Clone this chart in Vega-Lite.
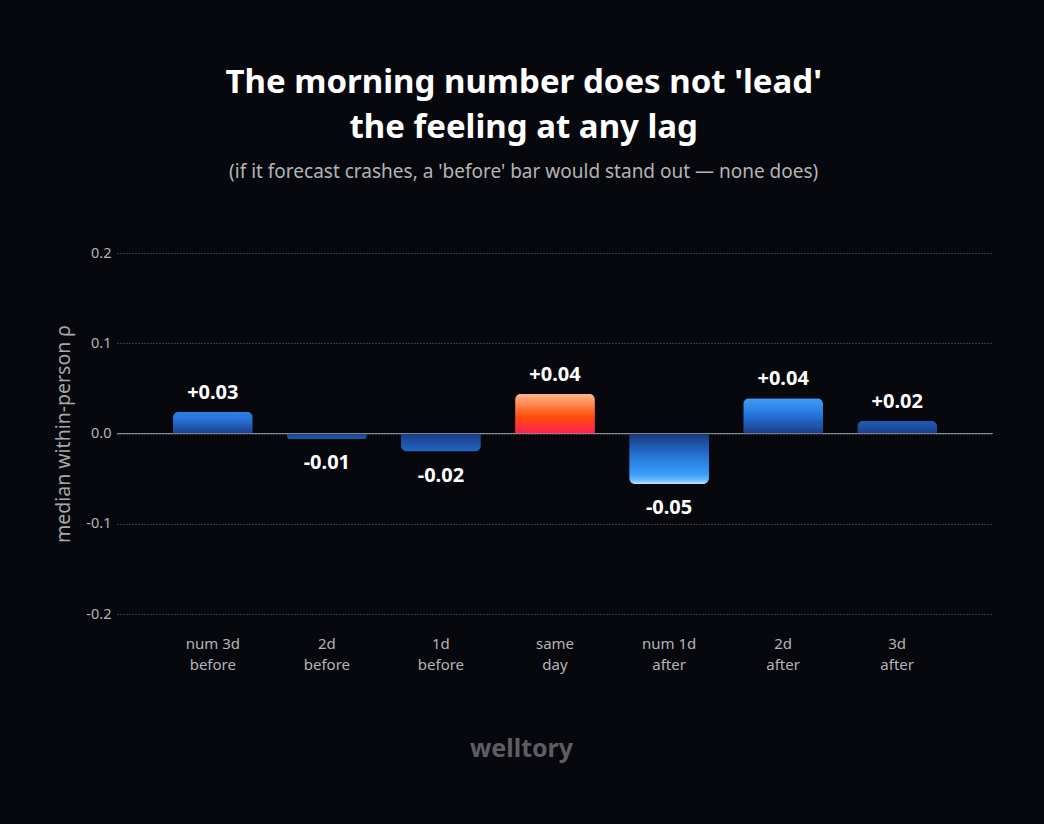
{
  "$schema": "https://vega.github.io/schema/vega-lite/v6.json",
  "autosize": {"type": "fit", "contains": "padding"},
  "width": 1044,
  "height": 824,
  "padding": {"left": 53, "right": 50, "top": 67, "bottom": 63},
  "background": "#07080d",
  "config": {
    "font": "Noto Sans",
    "view": {"stroke": null},
    "axis": {"domain": false, "ticks": false}
  },
  "title": {
    "text": ["The morning number does not 'lead'", "the feeling at any lag"],
    "subtitle": "(if it forecast crashes, a 'before' bar would stand out — none does)",
    "frame": "bounds",
    "anchor": "middle",
    "color": "#ffffff",
    "fontSize": 33,
    "fontWeight": "bold",
    "lineHeight": 45,
    "subtitleColor": "#b4b4b4",
    "subtitleFontSize": 19,
    "subtitlePadding": 18,
    "offset": 63
  },
  "data": {
    "values": [
      {"lag": "num 3d|before", "rho": 0.024, "label": "+0.03"},
      {"lag": "2d|before", "rho": -0.006, "label": "-0.01"},
      {"lag": "1d|before", "rho": -0.02, "label": "-0.02"},
      {"lag": "same|day", "rho": 0.044, "label": "+0.04"},
      {"lag": "num 1d|after", "rho": -0.056, "label": "-0.05"},
      {"lag": "2d|after", "rho": 0.039, "label": "+0.04"},
      {"lag": "3d|after", "rho": 0.014, "label": "+0.02"}
    ]
  },
  "encoding": {
    "x": {
      "field": "lag",
      "type": "nominal",
      "sort": null,
      "scale": {"paddingInner": 0.3, "paddingOuter": 0.49},
      "axis": {
        "labelAngle": 0,
        "labelExpr": "split(datum.label, '|')",
        "labelColor": "#b4b4b4",
        "labelFontSize": 15,
        "labelLineHeight": 21,
        "labelPadding": 22,
        "title": "welltory",
        "titleColor": "#5e5e62",
        "titleFontSize": 25,
        "titleFontWeight": "bold",
        "titleX": 404,
        "titleY": 134,
        "titleAlign": "center",
        "titleBaseline": "middle"
      }
    },
    "y": {
      "field": "rho",
      "type": "quantitative",
      "scale": {"domain": [-0.2, 0.2], "nice": false, "zero": false},
      "axis": {
        "values": [-0.2, -0.1, 0, 0.1, 0.2],
        "labelExpr": "replace(format(datum.value, '.1f'), '\u2212', '-')",
        "labelColor": "#b4b4b4",
        "labelFontSize": 14.5,
        "labelPadding": 6,
        "grid": true,
        "gridColor": "#6a6a6e",
        "gridDash": [1, 2],
        "gridWidth": 1,
        "title": "median within-person ρ",
        "titleColor": "#a8a8a8",
        "titleFontSize": 19.5,
        "titleFontWeight": "normal",
        "titlePadding": 12
      }
    }
  },
  "layer": [
    {
      "mark": {"type": "rule", "color": "#8a8a8e", "strokeWidth": 1},
      "encoding": {"y": {"datum": 0}, "x": null}
    },
    {
      "transform": [{"filter": "datum.lag === 'num 3d|before'"}],
      "mark": {"type": "bar", "cornerRadiusTopLeft": 6, "cornerRadiusTopRight": 6,
        "color": {"gradient": "linear", "x1": 0, "y1": 0, "x2": 0, "y2": 1,
          "stops": [{"offset": 0, "color": "#2a84ea"}, {"offset": 0.4, "color": "#2670d2"}, {"offset": 1, "color": "#1c3f8a"}]}}
    },
    {
      "transform": [{"filter": "datum.lag === '2d|before'"}],
      "mark": {"type": "bar", "cornerRadiusBottomLeft": 5, "cornerRadiusBottomRight": 5,
        "color": {"gradient": "linear", "x1": 0, "y1": 0, "x2": 0, "y2": 1,
          "stops": [{"offset": 0, "color": "#1b4690"}, {"offset": 1, "color": "#1f56aa"}]}}
    },
    {
      "transform": [{"filter": "datum.lag === '1d|before'"}],
      "mark": {"type": "bar", "cornerRadiusBottomLeft": 6, "cornerRadiusBottomRight": 6,
        "color": {"gradient": "linear", "x1": 0, "y1": 0, "x2": 0, "y2": 1,
          "stops": [{"offset": 0, "color": "#1a3c84"}, {"offset": 1, "color": "#2266c4"}]}}
    },
    {
      "transform": [{"filter": "datum.lag === 'same|day'"}],
      "mark": {"type": "bar", "cornerRadiusTopLeft": 6, "cornerRadiusTopRight": 6,
        "color": {"gradient": "linear", "x1": 0, "y1": 0, "x2": 0, "y2": 1,
          "stops": [{"offset": 0, "color": "#ffb890"}, {"offset": 0.25, "color": "#ff8a50"}, {"offset": 0.6, "color": "#ff4a08"}, {"offset": 1, "color": "#ff1f58"}]}}
    },
    {
      "transform": [{"filter": "datum.lag === 'num 1d|after'"}],
      "mark": {"type": "bar", "cornerRadiusBottomLeft": 6, "cornerRadiusBottomRight": 6,
        "color": {"gradient": "linear", "x1": 0, "y1": 0, "x2": 0, "y2": 1,
          "stops": [{"offset": 0, "color": "#1a3678"}, {"offset": 0.45, "color": "#2476d8"}, {"offset": 0.8, "color": "#379cf8"}, {"offset": 0.92, "color": "#6ab8ff"}, {"offset": 1, "color": "#c8e6ff"}]}}
    },
    {
      "transform": [{"filter": "datum.lag === '2d|after'"}],
      "mark": {"type": "bar", "cornerRadiusTopLeft": 6, "cornerRadiusTopRight": 6,
        "color": {"gradient": "linear", "x1": 0, "y1": 0, "x2": 0, "y2": 1,
          "stops": [{"offset": 0, "color": "#3c9ff8"}, {"offset": 0.5, "color": "#2472d8"}, {"offset": 1, "color": "#1c3c84"}]}}
    },
    {
      "transform": [{"filter": "datum.lag === '3d|after'"}],
      "mark": {"type": "bar", "cornerRadiusTopLeft": 6, "cornerRadiusTopRight": 6,
        "color": {"gradient": "linear", "x1": 0, "y1": 0, "x2": 0, "y2": 1,
          "stops": [{"offset": 0, "color": "#1f5cb6"}, {"offset": 1, "color": "#1b3f88"}]}}
    },
    {
      "transform": [{"filter": "datum.rho >= 0"}],
      "mark": {"type": "text", "color": "#ffffff", "fontSize": 20, "fontWeight": "bold", "baseline": "bottom", "dy": -9},
      "encoding": {"text": {"field": "label"}}
    },
    {
      "transform": [{"filter": "datum.rho < 0"}],
      "mark": {"type": "text", "color": "#ffffff", "fontSize": 20, "fontWeight": "bold", "baseline": "top", "dy": 14},
      "encoding": {"text": {"field": "label"}}
    }
  ]
}
